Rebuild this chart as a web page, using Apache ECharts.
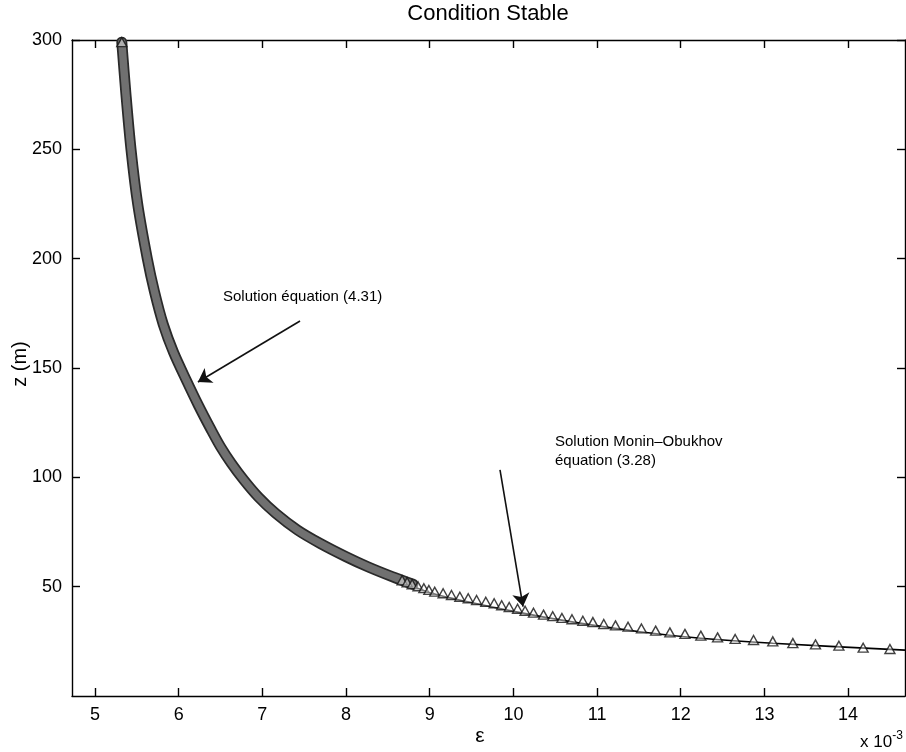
<!DOCTYPE html>
<html><head><meta charset="utf-8">
<script src="https://cdn.jsdelivr.net/npm/echarts@6/dist/echarts.min.js"></script>
<style>html,body{margin:0;padding:0;background:#fff}#c{width:906px;height:752px}</style>
</head><body><div id="c"></div>
<script>
// x values are epsilon in units of 1e-3
const xTicks = [5, 6, 7, 8, 9, 10, 11, 12, 13, 14];
const yTicks = [50, 100, 150, 200, 250, 300];

// Solution équation (4.31): solid line
const lineEps = [5.32, 5.37, 5.43, 5.51, 5.625, 5.71, 5.815, 5.94, 6.09, 6.235, 6.39, 6.50, 6.63, 6.78, 6.95, 7.16, 7.42, 7.69, 8.00, 8.26, 8.55, 9.06, 10.02, 10.70, 11.51, 12.24, 13.10, 14.68];
const lineZ   = [300, 275, 250, 225, 200, 185, 170, 157, 144.5, 133, 121.6, 114, 106.4, 98.7, 91.1, 83.5, 75.9, 69.6, 63.4, 58.7, 54.0, 46.6, 38.6, 33.9, 29.4, 26.4, 24.1, 21.0];

// Solution Monin-Obukhov (3.28): dense part where the triangles merge into a band
const bandEps = [5.32, 5.37, 5.43, 5.51, 5.625, 5.71, 5.815, 5.94, 6.09, 6.235, 6.39, 6.50, 6.63, 6.78, 6.95, 7.16, 7.42, 7.69, 8.00, 8.26, 8.55, 8.80];
const bandZ   = [299, 275, 250, 225, 200, 185, 170, 157, 144.5, 133, 121.6, 114, 106.4, 98.7, 91.1, 83.5, 75.9, 69.8, 63.7, 59.1, 54.6, 51.1];

// Solution Monin-Obukhov (3.28): individual triangle markers
const triEps = [5.32, 8.67, 8.73, 8.79, 8.86, 8.93, 8.99, 9.06, 9.16, 9.26, 9.36, 9.46, 9.56, 9.67, 9.77, 9.86, 9.95,
  10.05, 10.14, 10.24, 10.36, 10.47, 10.58, 10.70, 10.83, 10.95, 11.08, 11.22, 11.37, 11.53, 11.70, 11.87,
  12.05, 12.24, 12.44, 12.65, 12.87, 13.10, 13.34, 13.61, 13.89, 14.18, 14.50];
const triZ = [299, 52.9, 52.0, 51.1, 50.2, 49.3, 48.5, 47.7, 47.0, 46.2, 45.4, 44.7, 43.9, 43.1, 42.4, 41.5, 40.7,
  39.9, 39.0, 38.1, 37.2, 36.5, 35.7, 35.1, 34.4, 33.8, 32.9, 32.3, 31.7, 30.9, 29.9, 29.1,
  28.4, 27.6, 26.8, 26.1, 25.6, 25.0, 24.2, 23.6, 23.0, 22.1, 21.5];

// annotation arrows (data coordinates: start -> tip)
const arrow1 = [[7.45, 171.5], [6.23, 143.6]];
const arrow2 = [[9.84, 103.4], [10.115, 40.9]];

const FONT = "'Liberation Sans', Arial, Helvetica, sans-serif";
const zip = (a, b) => a.map((v, i) => [v, b[i]]);

const chart = echarts.init(document.getElementById('c'), null, {renderer: 'canvas'});

const axisCommonX = {
  type: 'value', min: 4.725, max: 14.68,
  axisLine: {show: true, onZero: false, lineStyle: {color: '#000', width: 1.4}},
  axisTick: {show: true, inside: true, length: 8, customValues: xTicks, lineStyle: {color: '#000', width: 1.4}},
  splitLine: {show: false}
};
const axisCommonY = {
  type: 'value', min: 0, max: 300,
  axisLine: {show: true, onZero: false, lineStyle: {color: '#000', width: 1.4}},
  axisTick: {show: true, inside: true, length: 8, customValues: yTicks, lineStyle: {color: '#000', width: 1.4}},
  splitLine: {show: false}
};

chart.setOption({
  animation: false,
  backgroundColor: '#fff',
  grid: {left: 72, right: 1, top: 40, bottom: 56, containLabel: false},
  xAxis: [
    Object.assign({}, axisCommonX, {position: 'bottom',
      axisLabel: {show: true, customValues: xTicks, margin: 10, color: '#000', fontSize: 18, fontFamily: FONT}}),
    Object.assign({}, axisCommonX, {position: 'top', axisLabel: {show: false}})
  ],
  yAxis: [
    Object.assign({}, axisCommonY, {position: 'left',
      axisLabel: {show: true, customValues: yTicks, margin: 10, color: '#000', fontSize: 18, fontFamily: FONT}}),
    Object.assign({}, axisCommonY, {position: 'right', axisLabel: {show: false}})
  ],
  series: [
    {
      name: 'Solution équation (4.31)', type: 'line', data: zip(lineEps, lineZ),
      smooth: 0.3, showSymbol: false, lineStyle: {color: '#000', width: 1.6}, z: 2
    },
    {
      name: 'band outline', type: 'line', data: zip(bandEps, bandZ),
      smooth: 0.3, showSymbol: false, lineStyle: {color: '#2a2a2a', width: 11, cap: 'round', join: 'round'}, z: 3
    },
    {
      name: 'band', type: 'line', data: zip(bandEps, bandZ),
      smooth: 0.3, showSymbol: false, lineStyle: {color: '#707070', width: 7.5, cap: 'round', join: 'round'}, z: 4
    },
    {
      name: 'Solution Monin-Obukhov (3.28)', type: 'scatter', data: zip(triEps, triZ),
      symbol: 'triangle', symbolSize: [10, 9], clip: false,
      itemStyle: {color: 'rgba(255,255,255,0.55)', borderColor: '#111', borderWidth: 1.4}, z: 5
    },
    {
      name: 'arrows', type: 'lines', coordinateSystem: 'cartesian2d',
      data: [{coords: arrow1}, {coords: arrow2}],
      symbol: ['none', 'arrow'], symbolSize: 13,
      lineStyle: {color: '#111', width: 1.6, opacity: 1}, z: 6
    }
  ],
  graphic: [
    {type: 'text', style: {text: 'Condition Stable', x: 488, y: 14, textAlign: 'center', textVerticalAlign: 'middle',
      font: '22px ' + FONT, fill: '#000'}},
    {type: 'text', style: {text: 'ε', x: 480, y: 736, textAlign: 'center', textVerticalAlign: 'middle',
      font: '21px ' + FONT, fill: '#000'}},
    {type: 'text', rotation: Math.PI / 2, x: 20, y: 364,
      style: {text: 'z (m)', x: 0, y: 0, textAlign: 'center', textVerticalAlign: 'middle', font: '20px ' + FONT, fill: '#000'}},
    {type: 'text', style: {x: 860, y: 742, textVerticalAlign: 'middle',
      text: '{a|x 10}{b|-3}',
      rich: {a: {fontSize: 17, fontFamily: FONT, color: '#000'},
             b: {fontSize: 12, fontFamily: FONT, color: '#000', verticalAlign: 'top', padding: [0, 0, 12, 0]}}}},
    {type: 'text', style: {text: 'Solution équation (4.31)', x: 223, y: 297, textVerticalAlign: 'middle',
      font: '15px ' + FONT, fill: '#000'}},
    {type: 'text', style: {text: 'Solution Monin–Obukhov\néquation (3.28)', x: 555, y: 432, textVerticalAlign: 'top',
      font: '15px ' + FONT, fill: '#000', lineHeight: 19}}
  ]
});
</script></body></html>
